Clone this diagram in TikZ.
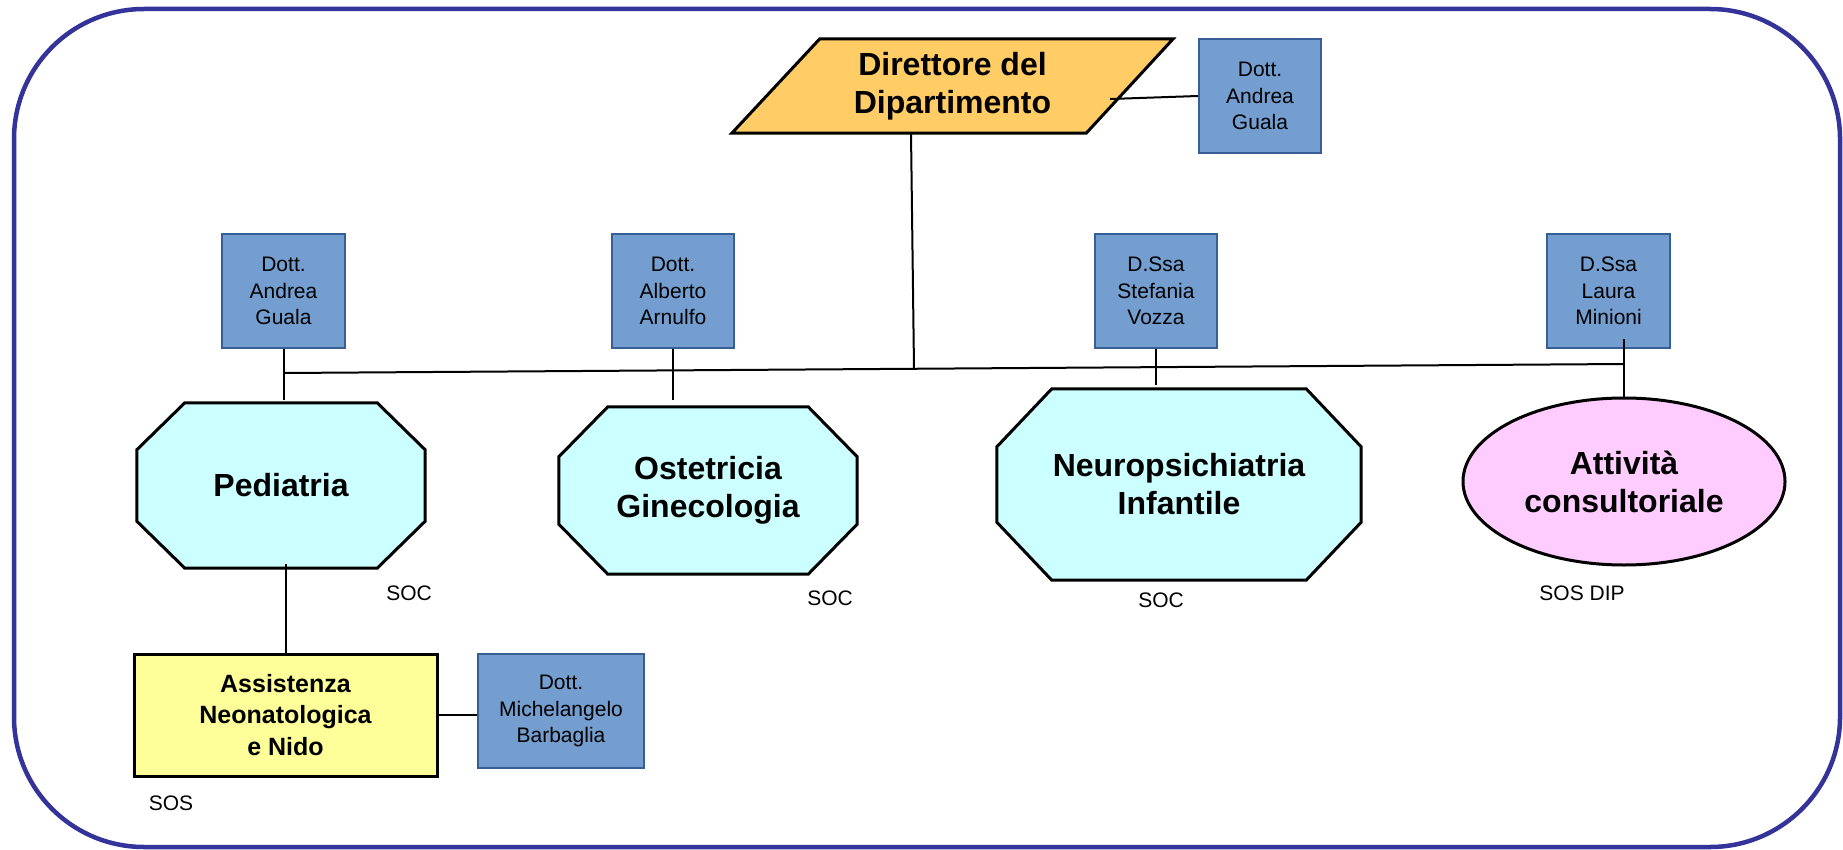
\documentclass[tikz,border=0pt]{standalone}
\usepackage{fontspec}
\setmainfont{Liberation Sans}
\usetikzlibrary{calc,shapes.geometric}
\pgfdeclarelayer{bg}
\pgfsetlayers{bg,main}

\definecolor{frameblue}{RGB}{51,51,153}
\definecolor{boxblue}{RGB}{115,158,207}
\definecolor{boxedge}{RGB}{56,94,150}
\definecolor{cyanfill}{RGB}{204,255,255}
\definecolor{orangefill}{RGB}{255,204,102}
\definecolor{yellowfill}{RGB}{255,255,153}
\definecolor{pinkfill}{RGB}{255,204,255}

\tikzset{
  person/.style={draw=boxedge, fill=boxblue, line width=2pt, minimum width=122pt,
    minimum height=114pt, align=center, inner sep=0pt,
    font=\fontsize{21}{26.5}\selectfont},
  unitbox/.style={align=center, inner sep=0pt,
    font=\fontsize{32}{38}\selectfont\bfseries},
  lbl/.style={inner sep=0pt, font=\fontsize{21}{25}\selectfont},
  conn/.style={draw=black, line width=2pt},
  shapeline/.style={draw=black, line width=3pt, line join=miter},
}

\newcommand{\octofill}[3]{%
  \begin{pgfonlayer}{bg}
  \filldraw[shapeline, fill=cyanfill]
    ($(#1.north west)+(#2,0)$) -- ($(#1.north east)+(-#2,0)$) --
    ($(#1.north east)+(0,#3)$) -- ($(#1.south east)+(0,-#3)$) --
    ($(#1.south east)+(-#2,0)$) -- ($(#1.south west)+(#2,0)$) --
    ($(#1.south west)+(0,-#3)$) -- ($(#1.north west)+(0,#3)$) -- cycle;
  \end{pgfonlayer}}

\begin{document}
\begin{tikzpicture}[x=1pt,y=-1pt]
\useasboundingbox (0,0) rectangle (1843,850);

% outer frame
\draw[frameblue, line width=4.5pt, rounded corners=130pt] (14,9) rectangle (1840,847);

% director
\node[unitbox, minimum width=441pt, minimum height=94pt] (dir) at (952.5,86)
  {Direttore del\\Dipartimento};
\begin{pgfonlayer}{bg}
\filldraw[shapeline, fill=orangefill]
  ($(dir.north west)+(88,0)$) -- (dir.north east) --
  ($(dir.south east)+(-87,0)$) -- (dir.south west) -- cycle;
\end{pgfonlayer}

% person boxes
\node[person] (b0) at (1260,96) {Dott.\\Andrea\\Guala};
\node[person, minimum width=123pt] (b1) at (283.5,291) {Dott.\\Andrea\\Guala};
\node[person] (b2) at (673,291) {Dott.\\Alberto\\Arnulfo};
\node[person] (b3) at (1156,291) {D.Ssa\\Stefania\\Vozza};
\node[person, minimum width=123pt] (b4) at (1608.5,291) {D.Ssa\\Laura\\Minioni};
\node[person, minimum width=166pt] (b5) at (561,711) {Dott.\\Michelangelo\\Barbaglia};

% units
\node[unitbox, minimum width=288pt, minimum height=165pt] (ped) at (281,485.5) {Pediatria};
\octofill{ped}{48}{47}
\node[unitbox, minimum width=298pt, minimum height=167pt] (ost) at (708,490.5) {Ostetricia\\Ginecologia};
\octofill{ost}{49}{50}
\node[unitbox, minimum width=364pt, minimum height=191pt] (neu) at (1179,484.5) {Neuropsichiatria\\Infantile};
\octofill{neu}{55}{58}
\node[unitbox, ellipse, shapeline, fill=pinkfill, minimum width=322pt, minimum height=167pt]
  (att) at (1624,481.5) {Attività\\consultoriale};
\node[unitbox, shapeline, fill=yellowfill, minimum width=303pt, minimum height=122pt,
  font=\fontsize{25}{31.5}\selectfont\bfseries] (asn) at (285.5,715)
  {Assistenza\\Neonatologica\\e Nido};

% labels
\node[lbl] (soc1) at (409,593) {SOC};
\node[lbl] (soc2) at (830,598) {SOC};
\node[lbl] (soc3) at (1161,600) {SOC};
\node[lbl] (sosdip) at (1582,593) {SOS DIP};
\node[lbl] (sos) at (171,803) {SOS};

% connectors
\coordinate (dirR) at (1110,99);
\coordinate (dirB) at (911,133);
\coordinate (busM) at (914,369);
\coordinate (busL) at (284,373);
\coordinate (busR) at (1624.5,364);
\draw[conn] (dirR) -- (b0.west);
\draw[conn] (dirB) -- (busM);
\draw[conn] (busL) -- (busR);
\draw[conn] (b1.south) -- ++(0,51);
\draw[conn] (b2.south) -- ++(0,51);
\draw[conn] (b3.south) -- ++(0,36);
\draw[conn] (att.north) -- ++(0,-58);
\draw[conn] (asn.north) -- ++(0,-89);
\draw[conn] (asn.east) -- (asn.east -| b5.west);
\end{tikzpicture}
\end{document}
